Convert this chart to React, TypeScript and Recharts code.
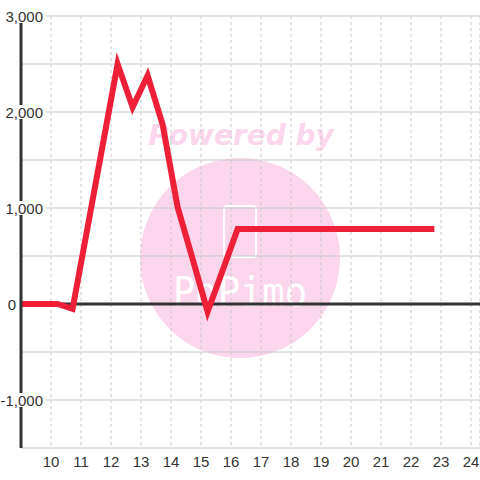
import React from 'react'
import {
  LineChart,
  Line,
  XAxis,
  YAxis,
  CartesianGrid,
  ReferenceLine,
} from 'recharts'

// hour of day (decimal) and value at that time
const hours = [
  9, 10.22, 10.72, 11.22, 11.72, 12.22, 12.72, 13.22, 13.72, 14.22, 14.72,
  15.22, 15.72, 16.22, 16.72, 17.22, 17.72, 18.22, 18.72, 19.22, 19.72,
  20.22, 20.72, 21.22, 21.72, 22.22, 22.78,
]
const values = [
  0, 0, -50, 800, 1650, 2500, 2050, 2380, 1870, 1010, 470,
  -80, 350, 780, 780, 780, 780, 780, 780, 780, 780,
  780, 780, 780, 780, 780, 780,
]
const xTicks = [10, 11, 12, 13, 14, 15, 16, 17, 18, 19, 20, 21, 22, 23, 24]
const yTicks = [-1500, -1000, -500, 0, 500, 1000, 1500, 2000, 2500, 3000]

const data = hours.map((hour, i) => ({ hour, value: values[i] }))

const FONT = '"Liberation Sans", Arial, sans-serif'

function YTick({ y, payload }: any) {
  const v = payload.value as number
  if (v % 1000 !== 0) return <g />
  const label = v.toLocaleString('en-US')
  if (v === 0) {
    return (
      <text x={16} y={y} textAnchor="end" dominantBaseline="central" fontSize={15} fontFamily={FONT} fill="#333">
        {label}
      </text>
    )
  }
  return (
    <g>
      <rect x={1} y={y - 7} width={44} height={14} fill="#fff" />
      <text x={43} y={y} textAnchor="end" dominantBaseline="central" fontSize={15} fontFamily={FONT} fill="#333">
        {label}
      </text>
    </g>
  )
}

function Watermark() {
  return (
    <svg width={480} height={480} style={{ position: 'absolute', left: 0, top: 0 }}>
      <circle cx={240} cy={258} r={100} fill="#fcd6ec" />
      <text
        x={241}
        y={145}
        textAnchor="middle"
        fontSize={28}
        fontWeight="bold"
        fontStyle="italic"
        fontFamily='"DejaVu Sans", sans-serif'
        fill="#fcd6ec"
      >
        Powered by
      </text>
      <rect x={224} y={206} width={32} height={51} rx={3} fill="none" stroke="#fff" strokeWidth={2} />
      <text
        x={240}
        y={306}
        textAnchor="middle"
        fontSize={40}
        fontFamily='"DejaVu Sans Mono", monospace'
        fill="#fff"
        textLength={134}
        lengthAdjust="spacingAndGlyphs"
      >
        PoPimo
      </text>
    </svg>
  )
}

export default function App() {
  return (
    <div style={{ position: 'absolute', left: 0, top: 0, width: 480, height: 480, background: '#fff' }}>
      <Watermark />
      <div style={{ position: 'absolute', left: 0, top: 0 }}>
        <LineChart width={480} height={480} data={data} margin={{ top: 16, right: 0, left: 0, bottom: 0 }}>
          <CartesianGrid horizontal={true} vertical={false} stroke="#c8c8c8" />
          <CartesianGrid horizontal={false} vertical={true} stroke="#c8c8c8" strokeDasharray="3 3" />
          <XAxis
            dataKey="hour"
            type="number"
            domain={[9, 24.3]}
            ticks={xTicks}
            interval={0}
            axisLine={false}
            tickLine={false}
            height={32}
            tick={{ fontSize: 15, fontFamily: FONT, fill: '#333' }}
          />
          <YAxis
            type="number"
            domain={[-1500, 3000]}
            ticks={yTicks}
            interval={0}
            width={21}
            tickLine={false}
            axisLine={{ stroke: '#333', strokeWidth: 3 }}
            tick={<YTick />}
          />
          <ReferenceLine y={0} stroke="#333" strokeWidth={3} />
          <Line
            type="linear"
            dataKey="value"
            stroke="#ee2037"
            strokeWidth={6}
            strokeLinejoin="miter"
            dot={false}
            isAnimationActive={false}
          />
        </LineChart>
      </div>
    </div>
  )
}
